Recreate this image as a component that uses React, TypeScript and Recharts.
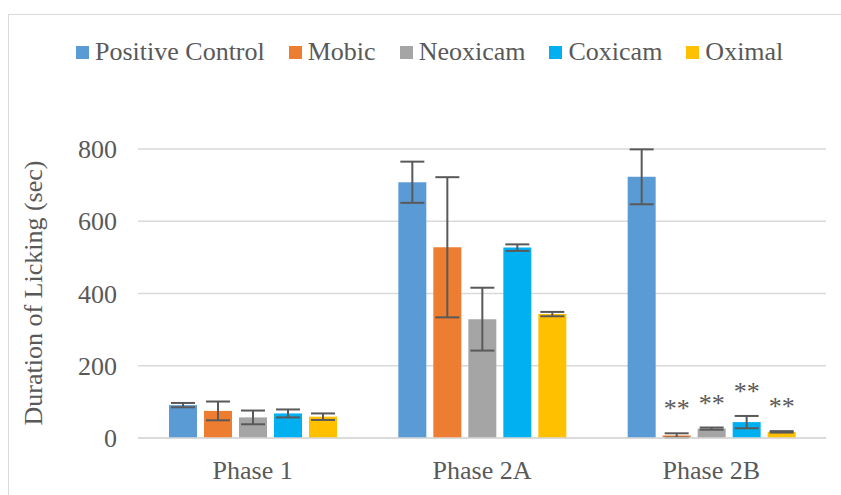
import { Bar, BarChart, CartesianGrid, ErrorBar, LabelList, XAxis, YAxis } from "recharts";

const phases = ["Phase 1", "Phase 2A", "Phase 2B"];

const positiveControl = [91, 708, 723];
const positiveControlErr = [6, 57, 76];
const mobic = [75, 528, 7];
const mobicErr = [26, 194, 6];
const neoxicam = [57, 329, 26];
const neoxicamErr = [19, 87, 3];
const coxicam = [68, 527, 44];
const coxicamErr = [11, 9, 17];
const oximal = [59, 343, 17];
const oximalErr = [9, 6, 2];

// significance marks, only on Phase 2B
const marks = ["", "", "**"];

const yTicks = [0, 200, 400, 600, 800];

const series = [
  { key: "pc", name: "Positive Control", color: "#5B9BD5", values: positiveControl, errs: positiveControlErr, mark: false },
  { key: "mobic", name: "Mobic", color: "#ED7D31", values: mobic, errs: mobicErr, mark: true },
  { key: "neo", name: "Neoxicam", color: "#A5A5A5", values: neoxicam, errs: neoxicamErr, mark: true },
  { key: "cox", name: "Coxicam", color: "#00B0F0", values: coxicam, errs: coxicamErr, mark: true },
  { key: "oxi", name: "Oximal", color: "#FFC000", values: oximal, errs: oximalErr, mark: true },
];

const data = phases.map((phase, i) => {
  const row: Record<string, string | number> = { phase };
  series.forEach((s) => {
    row[s.key] = s.values[i];
    row[s.key + "Err"] = s.errs[i];
    row[s.key + "Mark"] = marks[i];
  });
  return row;
});

const FONT = "'Liberation Serif', 'Times New Roman', serif";
const TEXT = "#595959";

function markContent(errs: number[]) {
  return (props: any) => {
    const { x, y, width, height, value, index } = props;
    if (!value) return null;
    const v = data[index] ? (series.find((s) => s.errs === errs)!.values[index]) : 1;
    const ppu = v ? height / v : 0;
    const top = y - errs[index] * ppu;
    return (
      <text
        x={x + width / 2}
        y={top - 16}
        textAnchor="middle"
        fontSize={26}
        fontFamily={FONT}
        fill={TEXT}
      >
        {value}
      </text>
    );
  };
}

export default function App() {
  return (
    <div style={{ position: "absolute", left: 0, top: 0, width: 841, height: 495, overflow: "hidden", background: "#fff" }}>
      <div
        style={{
          position: "absolute",
          left: 8,
          top: 14,
          width: 900,
          height: 600,
          border: "1px solid #d9d9d9",
        }}
      />
      <div
        style={{
          position: "absolute",
          left: 76,
          top: 38,
          height: 28,
          display: "flex",
          alignItems: "center",
          gap: 24,
          fontFamily: FONT,
          fontSize: 26,
          color: TEXT,
          whiteSpace: "nowrap",
        }}
      >
        {series.map((s) => (
          <div key={s.key} style={{ display: "flex", alignItems: "center" }}>
            <span style={{ width: 13, height: 13, background: s.color, marginRight: 6, display: "inline-block" }} />
            <span style={{ lineHeight: "28px" }}>{s.name}</span>
          </div>
        ))}
      </div>
      <BarChart
        width={841}
        height={495}
        data={data}
        margin={{ top: 149, right: 15, bottom: 7, left: 8 }}
        barSize={28}
        barGap={7}
        style={{ position: "absolute", left: 0, top: 0 }}
      >
        <CartesianGrid vertical={false} stroke="#d9d9d9" strokeWidth={1.5} />
        <XAxis
          dataKey="phase"
          height={50}
          tickLine={false}
          axisLine={{ stroke: "#d9d9d9", strokeWidth: 1.5 }}
          tickMargin={17}
          tick={{ fontSize: 26, fontFamily: FONT, fill: TEXT }}
        />
        <YAxis
          width={130}
          domain={[0, 800]}
          ticks={yTicks}
          tickLine={false}
          axisLine={false}
          tickMargin={15}
          tick={{ fontSize: 26, fontFamily: FONT, fill: TEXT }}
          label={{
            value: "Duration of Licking (sec)",
            content: () => (
              <text
                transform="translate(33,293) rotate(-90)"
                textAnchor="middle"
                dominantBaseline="central"
                fontSize={26}
                fontFamily={FONT}
                fill={TEXT}
              >
                Duration of Licking (sec)
              </text>
            ),
          }}
        />
        {series.map((s) => (
          <Bar key={s.key} dataKey={s.key} name={s.name} fill={s.color} isAnimationActive={false}>
            <ErrorBar dataKey={s.key + "Err"} width={12} strokeWidth={2} stroke="#595959" />
            {s.mark && <LabelList dataKey={s.key + "Mark"} content={markContent(s.errs)} />}
          </Bar>
        ))}
      </BarChart>
    </div>
  );
}
